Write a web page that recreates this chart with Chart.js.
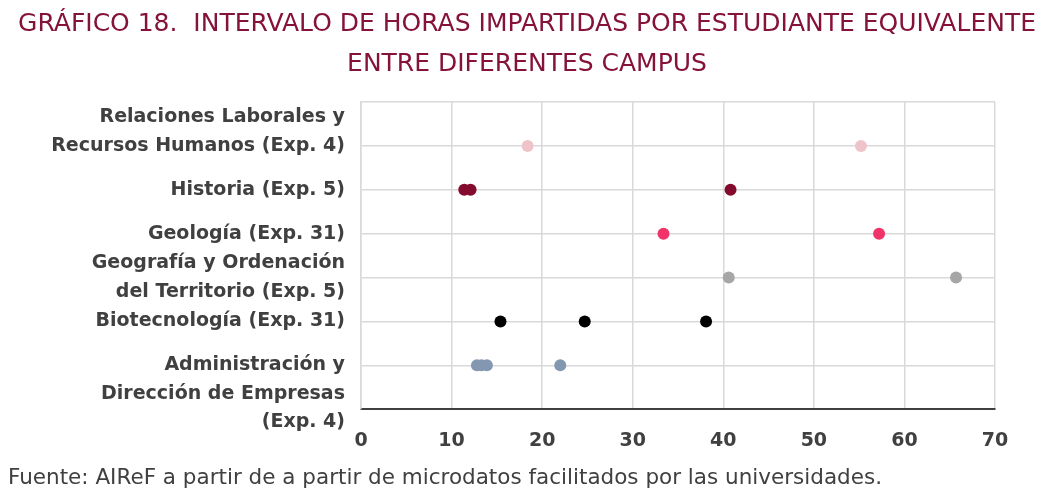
<!DOCTYPE html>
<html>
<head>
<meta charset="utf-8">
<script src="https://cdn.jsdelivr.net/npm/chart.js@4/dist/chart.umd.min.js"></script>
<style>
  html, body { margin: 0; padding: 0; background: #fff; }
  #wrap { width: 1050px; height: 495px; }
</style>
</head>
<body>
<div id="wrap"><canvas id="myChart" width="1050" height="495"></canvas></div>
<script>
// categories from top to bottom
const categories = [
    "Relaciones Laborales y Recursos Humanos (Exp. 4)",
    "Historia (Exp. 5)",
    "Geología (Exp. 31)",
    "Geografía y Ordenación del Territorio (Exp. 5)",
    "Biotecnología (Exp. 31)",
    "Administración y Dirección de Empresas (Exp. 4)"
];
// labels as drawn on the axis (blank lines keep the original offsets)
const tickLabels = [
    ["Relaciones Laborales y", "Recursos Humanos (Exp. 4)", ""],
    "Historia (Exp. 5)",
    "Geología (Exp. 31)",
    ["Geografía y Ordenación", "del Territorio (Exp. 5)"],
    "Biotecnología (Exp. 31)",
    ["", "", "Administración y", "Dirección de Empresas", "(Exp. 4)"]
];

// hours per equivalent student, one value per campus
const relaciones = [18.4, 55.2];
const historia = [11.4, 12.1, 40.8];
const geologia = [33.4, 57.2];
const geografia = [40.6, 65.7];
const biotecnologia = [15.4, 24.7, 38.1];
const administracion = [12.8, 13.3, 13.9, 22.0];

const xTicks = [0, 10, 20, 30, 40, 50, 60, 70];

const series = [relaciones, historia, geologia, geografia, biotecnologia, administracion];
const colors = ["#EFC3CA", "#840B2D", "#F0346A", "#A6A6A6", "#000000", "#8497B0"];

// y position: top category highest
function yPos(i) {
    return categories.length - i;
}

let datasets = series.map(function (vals, i) {
    return {
        label: categories[i],
        data: vals.map(function (v) { return { x: v, y: yPos(i) }; }),
        backgroundColor: colors[i],
        borderColor: colors[i],
        pointRadius: 6,
        pointBorderWidth: 0,
        yAxisID: "y"
    };
});

new Chart("myChart", {
    type: "scatter",
    data: { datasets: datasets },
    options: {
        responsive: false,
        animation: false,
        layout: { padding: { left: 8, right: 4, top: 0, bottom: 0 } },
        plugins: {
            legend: { display: false },
            tooltip: { enabled: false },
            title: {
                display: true,
                text: ["GRÁFICO 18.  INTERVALO DE HORAS IMPARTIDAS POR ESTUDIANTE EQUIVALENTE", "ENTRE DIFERENTES CAMPUS"],
                color: "#85123A",
                font: { family: "'DejaVu Sans'", size: 25, weight: "normal", lineHeight: 1.6 },
                padding: { top: 4, bottom: 18 }
            },
            subtitle: {
                display: true,
                position: "bottom",
                align: "start",
                text: "Fuente: AIReF a partir de a partir de microdatos facilitados por las universidades.",
                color: "#404040",
                font: { family: "'DejaVu Sans'", size: 21.5, weight: "normal", lineHeight: 1.2 },
                padding: { top: 0, bottom: 4 }
            }
        },
        scales: {
            x: {
                type: "linear",
                min: xTicks[0],
                max: xTicks[xTicks.length - 1],
                afterBuildTicks: function (scale) {
                    scale.ticks = xTicks.map(function (v) { return { value: v }; });
                },
                afterFit: function (scale) { scale.height = 56; },
                grid: { color: "#D9D9D9", lineWidth: 1.5, drawTicks: false },
                border: { color: "#404040", width: 2 },
                ticks: {
                    color: "#404040",
                    padding: 20,
                    autoSkip: false,
                    maxRotation: 0,
                    font: { family: "'DejaVu Sans'", size: 19, weight: "bold" }
                }
            },
            y: {
                type: "linear",
                position: "left",
                min: 0,
                max: categories.length + 1,
                afterBuildTicks: function (scale) {
                    let t = [];
                    for (let v = 0; v <= categories.length + 1; v++) t.push({ value: v });
                    scale.ticks = t;
                },
                ticks: {
                    color: "#404040",
                    padding: 16,
                    autoSkip: false,
                    font: { family: "'DejaVu Sans'", size: 19, weight: "bold", lineHeight: 1.5 },
                    callback: function (v) {
                        let i = categories.length - v;
                        if (i >= 0 && i < categories.length) return tickLabels[i];
                        return "";
                    }
                },
                afterFit: function (scale) { scale.width = 353; },
                grid: { color: "#D9D9D9", lineWidth: 1.5, drawTicks: false },
                border: { color: "#D9D9D9", width: 1.5 }
            },
            yRight: {
                type: "linear",
                position: "right",
                display: true,
                grid: { display: false },
                border: { display: false },
                ticks: { display: false },
                afterFit: function (scale) { scale.width = 51; }
            }
        }
    }
});
</script>
</body>
</html>
